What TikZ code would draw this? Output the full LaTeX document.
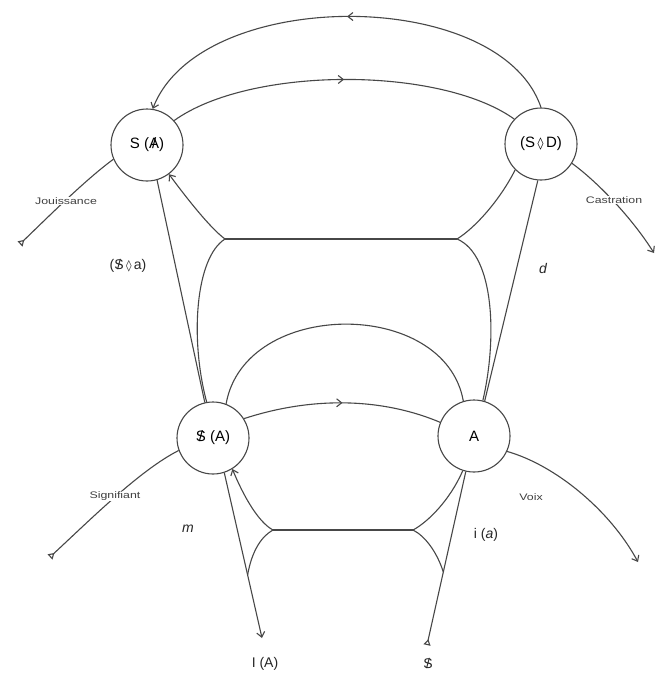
\documentclass[tikz,border=0pt]{standalone}
\usepackage{graphicx}
\usepackage{fontspec}
\setmainfont{Liberation Sans}
\newfontfamily\dejavu{DejaVu Sans}
\usetikzlibrary{arrows.meta,decorations.markings}
\newcommand\barS{\ooalign{S\cr\hidewidth/\hidewidth\cr}}
\newcommand\barA{\ooalign{A\cr\hidewidth/\hidewidth\cr}}
\newcommand\loz{{\dejavu\scalebox{0.8}{◊}}}
\newcommand\wide[1]{\scalebox{1.3}[1]{#1}}
\tikzset{
  ln/.style={draw=black!72, line width=1.1pt},
  circ/.style={circle, draw=black!72, line width=1.1pt, minimum size=72pt, inner sep=0pt, font=\fontsize{15}{18}\selectfont},
  tip/.style={-{Straight Barb[length=5pt,width=8pt]}},
  tail/.style={{Triangle[open,reversed,length=6pt,width=7pt]}-},
  midarrow/.style={postaction={decorate}, decoration={markings, mark=at position 0.5 with {\arrow{Straight Barb[length=5pt,width=8pt]}}}},
  small/.style={font=\fontsize{9.5}{10}\selectfont, fill=white, inner sep=1pt, text=black!75},
  lab/.style={font=\fontsize{14}{16}\selectfont, text=black!85}
}
\begin{document}
\begin{tikzpicture}[x=1pt,y=-1pt]
\fill[white] (0,0) rectangle (659,675);
\useasboundingbox (0,0) rectangle (659,675);

% circles
\node[circ] (SA) at (147,145) {S (\barA)};
\node[circ] (SD) at (541,144) {(S\,\loz\,D)};
\node[circ] (SbA) at (213,438) {\barS\ (A)};
\node[circ] (A) at (474,436) {A};

% free ends
\coordinate (jt) at (20,244);
\coordinate (ct) at (654,253);
\coordinate (st) at (50,557);
\coordinate (vt) at (638,562);
\coordinate (IAt) at (262,638);
\coordinate (St) at (427,645);
\coordinate (L1) at (225,239);
\coordinate (R1) at (457,239);
\coordinate (L2) at (273,530);
\coordinate (R2) at (413,530);
\coordinate (lm) at (247.6,575);
\coordinate (rm) at (443.3,572);

% top arcs
\draw[ln,midarrow,tip] (SD.90) .. controls (500,-14) and (200,-14) .. (SA.81);
\draw[ln,midarrow] (SA.42) .. controls (250,66) and (440,66) .. (SD.137);

% upper chain
\draw[ln,tail] (jt) .. controls (45,220) and (85,180) .. (SA.203);
\draw[ln,tip] (SD.-32) .. controls (595,180) and (630,215) .. (ct);

% lower chain
\draw[ln,tail] (st) .. controls (90,520) and (140,470) .. (SbA.200);
\draw[ln,tip] (A.-25) .. controls (555,465) and (610,510) .. (vt);
\draw[ln,midarrow] (SbA.32) .. controls (310,397) and (380,397) .. (A.158);
\draw[ln] (SbA.69) .. controls (245,298) and (445,298) .. (A.107);

% verticals
\draw[ln] (SA.-74) -- (SbA.103);
\draw[ln] (SD.265) -- (A.73);
\draw[ln,tip] (SbA.-72) -- (IAt);
\draw[ln,tail] (St) -- (A.-103);

% upper bar
\draw[ln] (L1) -- (R1);
\draw[ln,tip] (L1) .. controls (210,228) and (185,196) .. (SA.-53);
\draw[ln] (L1) .. controls (195,258) and (190,340) .. (SbA.100);
\draw[ln] (R1) .. controls (475,228) and (500,200) .. (SD.225);
\draw[ln] (R1) .. controls (495,255) and (497,340) .. (A.76);

% lower bar
\draw[ln] (L2) -- (R2);
\draw[ln,tip] (L2) .. controls (258,522) and (243,495) .. (SbA.-58);
\draw[ln] (L2) .. controls (262,536) and (252,550) .. (lm);
\draw[ln] (R2) .. controls (428,522) and (450,500) .. (A.-108);
\draw[ln] (R2) .. controls (425,536) and (437,552) .. (rm);

% small labels
\node[small] (jl) at (66,201) {\wide{Jouissance}};
\node[small] (cl) at (614,200) {\wide{Castration}};
\node[small] (sl) at (115,496) {\wide{Signifiant}};
\node[small] (vl) at (531,497) {\wide{Voix}};

% labels
\node[lab] (l1) at (128,266) {(\barS\,\loz\,a)};
\node[lab] (l2) at (543,268) {\itshape d};
\node[lab] (l3) at (188,529) {\itshape m};
\node[lab] (l4) at (486,535) {i (\textit{a})};
\node[lab] (l5) at (265,664) {I (A)};
\node[lab] (l6) at (428,664) {\barS};
\end{tikzpicture}
\end{document}
